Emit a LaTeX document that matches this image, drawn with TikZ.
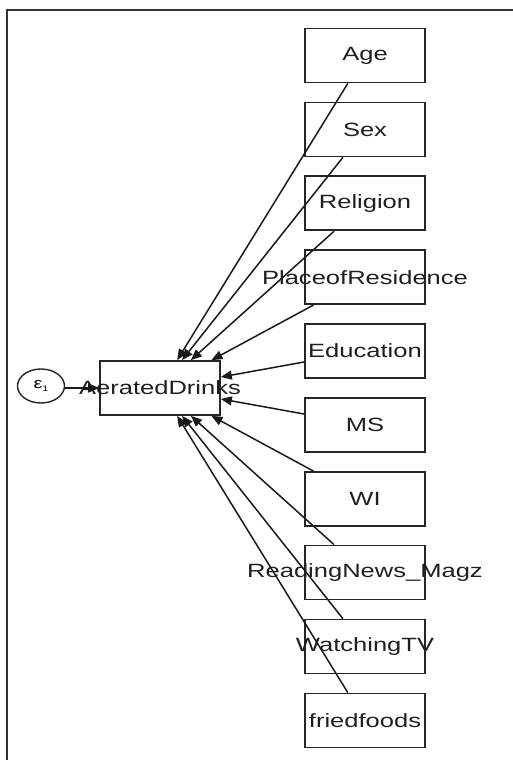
\documentclass[tikz,border=0pt]{standalone}
\usepackage{fontspec}
\setmainfont{Liberation Sans}[FakeStretch=1.33]
\usetikzlibrary{arrows.meta,shapes.geometric}
\begin{document}
\begin{tikzpicture}[x=1pt,y=-1pt,
  var/.style={draw=black!85,line width=1.7pt,minimum width=120pt,minimum height=54pt,
    inner sep=0pt,font=\fontsize{19.2}{20}\selectfont,text=black!88},
  pathln/.style={draw=black!90,line width=1.5pt,-{Triangle[length=11pt,width=9pt]}},
  err/.style={draw=black!85,line width=1.4pt,ellipse,minimum width=47pt,minimum height=34pt,inner sep=0pt}]
\useasboundingbox (0,0) rectangle (513,760);
\draw[line width=1.3pt,black!80] (513,10) -- (7,10) -- (7,760);

\node[var] (aer) at (160,388) {\makebox[0pt]{AeratedDrinks}};
\node[err] (e1) at (41,386) {\fontsize{15}{15}\selectfont ε\raisebox{-3pt}{\fontsize{8}{8}\selectfont 1}};

\node[var] (age) at (365,55.5)  {\makebox[0pt]{Age}};
\node[var] (sex) at (365,129.5) {\makebox[0pt]{Sex}};
\node[var] (rel) at (365,203.3) {\makebox[0pt]{Religion}};
\node[var] (pla) at (365,277.2) {\makebox[0pt]{PlaceofResidence}};
\node[var] (edu) at (365,351)   {\makebox[0pt]{Education}};
\node[var] (ms)  at (365,425)   {\makebox[0pt]{MS}};
\node[var] (wi)  at (365,499)   {\makebox[0pt]{WI}};
\node[var] (rea) at (365,572.5) {\makebox[0pt]{ReadingNews\_Magz}};
\node[var] (tv)  at (365,646.5) {\makebox[0pt]{WatchingTV}};
\node[var] (fri) at (365,720.5) {\makebox[0pt]{friedfoods}};

\foreach \n in {age,sex,rel,pla,edu,ms,wi,rea,tv,fri}
  \draw[pathln] (\n) -- (aer);
\draw[pathln] (e1.east |- aer) -- (aer);
\end{tikzpicture}
\end{document}
